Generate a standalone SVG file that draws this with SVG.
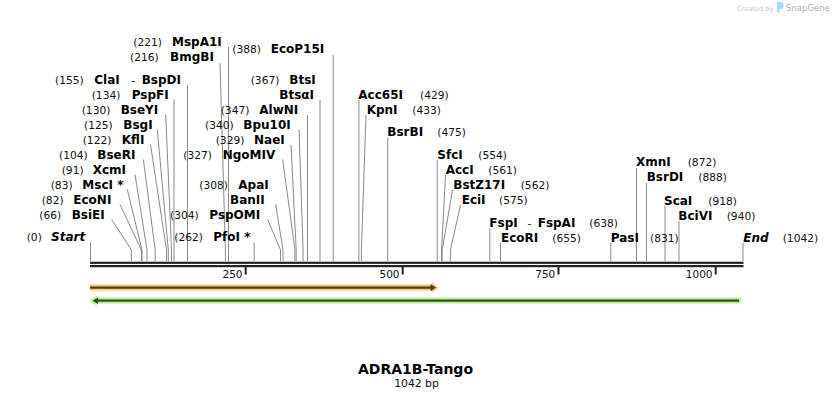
<svg xmlns="http://www.w3.org/2000/svg" width="834" height="400" viewBox="0 0 834 400">
<style>
.n{font-family:"DejaVu Sans",Verdana,sans-serif;font-size:12px;font-weight:bold;fill:#000}
.p{font-family:"DejaVu Sans",Verdana,sans-serif;font-size:10.7px;fill:#111}
.se{font-family:"DejaVu Sans",Verdana,sans-serif;font-size:12px;font-weight:bold;font-style:italic;fill:#000}
.tk{font-family:"DejaVu Sans",Verdana,sans-serif;font-size:10.5px;fill:#111;text-anchor:end}
.c line,.c polyline{stroke:#8a8a8a;stroke-width:1;fill:none}
</style>
<rect width="834" height="400" fill="#fff"/>
<g id="watermark">
<text x="737" y="10.5" style="font-family:'DejaVu Sans',sans-serif;font-size:6.6px;fill:#c4c4c4">Created by</text>
<path d="M777 2 h3 a3.6 3.6 0 0 1 0 7.2 h-0.6 v3.6 h-2.4 z" fill="#a6dcf5"/>
<text x="786" y="11.3" style="font-family:'DejaVu Sans',sans-serif;font-size:8.5px;fill:#b0b0b0">SnapGene</text>
</g>
<g id="connectors" class="c">
<line x1="228.5" y1="47" x2="228.5" y2="261"/>
<polyline points="220,63 225.4,250 225.4,261"/>
<line x1="187.5" y1="85" x2="187.5" y2="261"/>
<line x1="174" y1="99.5" x2="174" y2="261"/>
<polyline points="165.7,114.5 171.5,250 171.5,261"/>
<polyline points="157.3,129.5 168.3,250 168.3,261"/>
<polyline points="150.5,144.5 166.5,250 166.5,261"/>
<polyline points="143.3,159.5 155.2,250 155.2,261"/>
<polyline points="135,174.5 147,250 147,261"/>
<polyline points="127.3,189.5 142,250 142,261"/>
<polyline points="120,204.5 141.4,250 141.4,261"/>
<polyline points="111.7,219.5 131.4,250 131.4,261"/>
<line x1="90.5" y1="242.5" x2="90.5" y2="261"/>
<line x1="333.2" y1="55" x2="333.2" y2="261"/>
<line x1="320" y1="100" x2="320" y2="261"/>
<line x1="307.5" y1="115" x2="307.5" y2="261"/>
<polyline points="299,129.5 303.1,250 303.1,261"/>
<polyline points="291,145 296.2,250 296.2,261"/>
<polyline points="282.7,159.5 294.9,250 294.9,261"/>
<polyline points="275.7,204.5 283,250 283,261"/>
<polyline points="267.7,219.5 280.5,250 280.5,261"/>
<line x1="254.2" y1="242.5" x2="254.2" y2="261"/>
<line x1="358.9" y1="100" x2="358.9" y2="261"/>
<polyline points="366,115 361.4,250 361.4,261"/>
<line x1="387.7" y1="137.5" x2="387.7" y2="261"/>
<line x1="437.2" y1="160" x2="437.2" y2="261"/>
<polyline points="445.5,175 441.6,250 441.6,261"/>
<polyline points="452.5,190 442.2,250 442.2,261"/>
<polyline points="460.5,205 450.4,250 450.4,261"/>
<line x1="489.8" y1="228.5" x2="489.8" y2="261"/>
<line x1="500.5" y1="243" x2="500.5" y2="261"/>
<line x1="636.5" y1="168" x2="636.5" y2="261"/>
<line x1="646.5" y1="183" x2="646.5" y2="261"/>
<line x1="665" y1="206" x2="665" y2="261"/>
<line x1="679" y1="221" x2="679" y2="261"/>
<line x1="610.8" y1="243" x2="610.8" y2="261"/>
<line x1="743" y1="243" x2="743" y2="261"/>
</g>
<g id="site-MspA1I"><text class="p" x="133.3" y="46">(221)</text><text class="n" x="172" y="46">MspA1I</text></g>
<g id="site-BmgBI"><text class="p" x="130" y="61">(216)</text><text class="n" x="170" y="61">BmgBI</text></g>
<g id="site-ClaI"><text class="p" x="55" y="83.5">(155)</text><text class="n" x="94.3" y="83.5">ClaI</text><text class="p" x="131.5" y="83.5">-</text><text class="n" x="141.7" y="83.5">BspDI</text></g>
<g id="site-PspFI"><text class="p" x="91.7" y="98.5">(134)</text><text class="n" x="131.7" y="98.5">PspFI</text></g>
<g id="site-BseYI"><text class="p" x="81.7" y="113.5">(130)</text><text class="n" x="120.7" y="113.5">BseYI</text></g>
<g id="site-BsgI"><text class="p" x="84" y="128.5">(125)</text><text class="n" x="123.3" y="128.5">BsgI</text></g>
<g id="site-KflI"><text class="p" x="82.7" y="143.5">(122)</text><text class="n" x="121.7" y="143.5">KflI</text></g>
<g id="site-BseRI"><text class="p" x="59" y="158.5">(104)</text><text class="n" x="97.3" y="158.5">BseRI</text></g>
<g id="site-XcmI"><text class="p" x="61.7" y="173.5">(91)</text><text class="n" x="92.7" y="173.5">XcmI</text></g>
<g id="site-MscI"><text class="p" x="50.7" y="188.5">(83)</text><text class="n" x="82.3" y="188.5">MscI *</text></g>
<g id="site-EcoNI"><text class="p" x="41.7" y="203.5">(82)</text><text class="n" x="73.3" y="203.5">EcoNI</text></g>
<g id="site-BsiEI"><text class="p" x="39.3" y="218.5">(66)</text><text class="n" x="71.7" y="218.5">BsiEI</text></g>
<g id="site-Start"><text class="p" x="26.7" y="241">(0)</text><text class="se" x="51" y="241">Start</text></g>
<g id="site-EcoP15I"><text class="p" x="232.3" y="53">(388)</text><text class="n" x="270.7" y="53">EcoP15I</text></g>
<g id="site-BtsI"><text class="p" x="250.7" y="83.5">(367)</text><text class="n" x="289.3" y="83.5">BtsI</text></g>
<g id="site-BtsaI"><text class="n" x="279.3" y="98.5">BtsαI</text></g>
<g id="site-AlwNI"><text class="p" x="220.7" y="113.5">(347)</text><text class="n" x="259.3" y="113.5">AlwNI</text></g>
<g id="site-Bpu10I"><text class="p" x="205" y="128.5">(340)</text><text class="n" x="243.3" y="128.5">Bpu10I</text></g>
<g id="site-NaeI"><text class="p" x="215.7" y="143.5">(329)</text><text class="n" x="254" y="143.5">NaeI</text></g>
<g id="site-NgoMIV"><text class="p" x="183.3" y="158.5">(327)</text><text class="n" x="222.7" y="158.5">NgoMIV</text></g>
<g id="site-ApaI"><text class="p" x="199.3" y="188.5">(308)</text><text class="n" x="238.3" y="188.5">ApaI</text></g>
<g id="site-BanII"><text class="n" x="230" y="203.5">BanII</text></g>
<g id="site-PspOMI"><text class="p" x="170" y="218.5">(304)</text><text class="n" x="209.3" y="218.5">PspOMI</text></g>
<g id="site-PfoI"><text class="p" x="174.3" y="241">(262)</text><text class="n" x="213.3" y="241">PfoI *</text></g>
<g id="site-Acc65I"><text class="n" x="358.3" y="98.5">Acc65I</text><text class="p" x="420" y="98.5">(429)</text></g>
<g id="site-KpnI"><text class="n" x="366.7" y="113.5">KpnI</text><text class="p" x="412.3" y="113.5">(433)</text></g>
<g id="site-BsrBI"><text class="n" x="387.3" y="136">BsrBI</text><text class="p" x="437.3" y="136">(475)</text></g>
<g id="site-SfcI"><text class="n" x="437.3" y="158.5">SfcI</text><text class="p" x="478.3" y="158.5">(554)</text></g>
<g id="site-AccI"><text class="n" x="445.7" y="173.5">AccI</text><text class="p" x="488.3" y="173.5">(561)</text></g>
<g id="site-BstZ17I"><text class="n" x="453.3" y="188.5">BstZ17I</text><text class="p" x="520.7" y="188.5">(562)</text></g>
<g id="site-EciI"><text class="n" x="461.7" y="203.5">EciI</text><text class="p" x="499" y="203.5">(575)</text></g>
<g id="site-FspI"><text class="n" x="489.3" y="226.5">FspI</text><text class="p" x="527.5" y="226.5">-</text><text class="n" x="537.7" y="226.5">FspAI</text><text class="p" x="589.3" y="226.5">(638)</text></g>
<g id="site-EcoRI"><text class="n" x="501" y="241.5">EcoRI</text><text class="p" x="552.3" y="241.5">(655)</text></g>
<g id="site-XmnI"><text class="n" x="636" y="166">XmnI</text><text class="p" x="687.7" y="166">(872)</text></g>
<g id="site-BsrDI"><text class="n" x="646.7" y="181">BsrDI</text><text class="p" x="698.3" y="181">(888)</text></g>
<g id="site-ScaI"><text class="n" x="664" y="204.5">ScaI</text><text class="p" x="708.3" y="204.5">(918)</text></g>
<g id="site-BciVI"><text class="n" x="678.3" y="219.5">BciVI</text><text class="p" x="726.7" y="219.5">(940)</text></g>
<g id="site-PasI"><text class="n" x="610.7" y="241.5">PasI</text><text class="p" x="650" y="241.5">(831)</text></g>
<g id="site-End"><text class="se" x="743.3" y="241.5">End</text><text class="p" x="782.7" y="241.5">(1042)</text></g>
<g id="sequence">
<rect x="90" y="261.7" width="653.5" height="2.2" fill="#222"/>
<rect x="90" y="265" width="653.5" height="2.2" fill="#222"/>
<rect x="244.7" y="267" width="2" height="7.5" fill="#222"/>
<rect x="401.7" y="267" width="2" height="7.5" fill="#222"/>
<rect x="557.5" y="267" width="2" height="7.5" fill="#222"/>
<rect x="714.7" y="267" width="2" height="7.5" fill="#222"/>
<text class="tk" x="242.5" y="278">250</text>
<text class="tk" x="399.5" y="278">500</text>
<text class="tk" x="555.3" y="278">750</text>
<text class="tk" x="712.5" y="278">1000</text>
</g>
<g id="feature-forward">
<polygon points="90,284.5 432,284.5 432,282.5 438.5,287.6 432,292.7 432,290.7 90,290.7" fill="#fcc771" stroke="#fde2b0" stroke-width="1"/>
<line x1="90" y1="287.6" x2="431" y2="287.6" stroke="#4d3f28" stroke-width="2.4"/>
<polygon points="430.5,284 436,287.6 430.5,291.2" fill="#4d3f28"/>
</g>
<g id="feature-reverse">
<polygon points="741,297.8 96.5,297.8 96.5,296 89.5,300.7 96.5,305.4 96.5,303.6 741,303.6" fill="#b5f08b" stroke="#d7f7bf" stroke-width="1"/>
<line x1="97" y1="300.7" x2="739" y2="300.7" stroke="#3b4a33" stroke-width="2.2"/>
<polygon points="98,297.4 92.5,300.7 98,304" fill="#3b4a33"/>
</g>
<g id="title">
<text x="415.5" y="374" text-anchor="middle" style="font-family:'DejaVu Sans',Verdana,sans-serif;font-size:14px;font-weight:bold;fill:#000">ADRA1B-Tango</text>
<text x="416.5" y="387.3" text-anchor="middle" style="font-family:'DejaVu Sans',Verdana,sans-serif;font-size:10.8px;fill:#111">1042 bp</text>
</g>
</svg>
